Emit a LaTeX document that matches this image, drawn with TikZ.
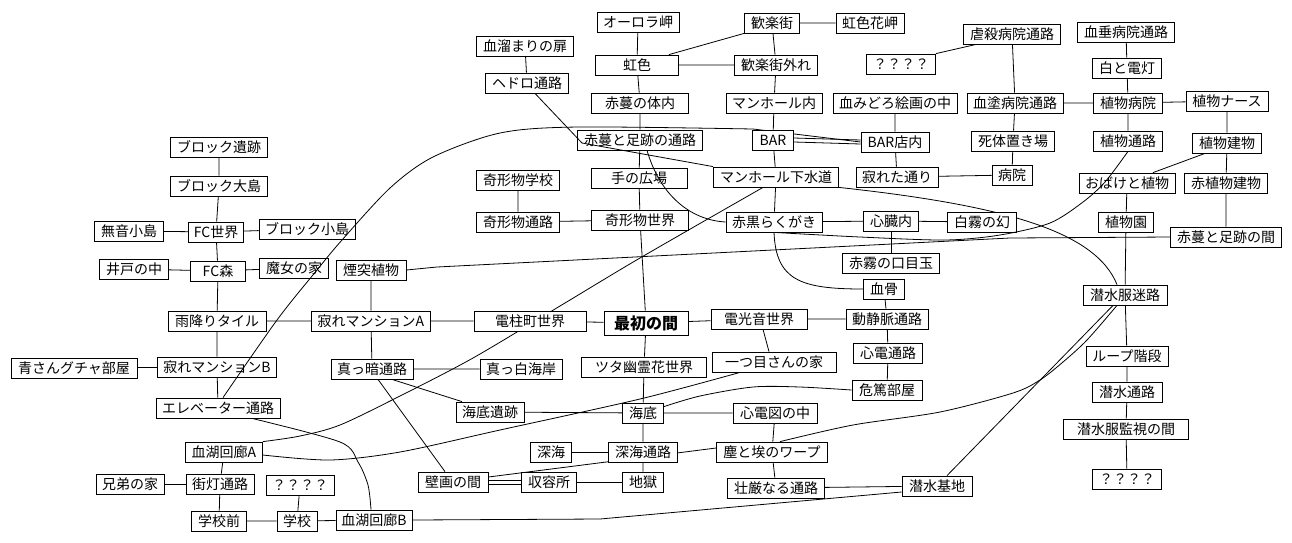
\documentclass[tikz,border=0pt]{standalone}
\usepackage{fontspec}
\newfontfamily\jp{Noto Sans CJK JP}
\usepackage{tikz}
\usetikzlibrary{backgrounds}
\newcommand{\jpsize}{\jp\fontsize{14}{15}\selectfont}

\begin{document}
\begin{tikzpicture}[x=1pt,y=-1pt,
  room/.style={draw,fill=white,inner sep=0pt,minimum height=20pt,line width=0.8pt,font=\jpsize},
  bw/.style={minimum width=#1},
  link/.style={line width=0.8pt}]
\useasboundingbox (0,0) rectangle (1292,542);
% rooms, top part
\node[room,bw=82] (aurora) at (638,22) {オーロラ岬};
\node[room,bw=55] (kanraku) at (772,23) {歓楽街};
\node[room,bw=68] (nijibana) at (870,23) {虹色花岬};
\node[room,bw=83] (niji) at (637,65) {虹色};
\node[room,bw=83] (hazure) at (776,65) {歓楽街外れ};
\node[room,bw=97] (tamari) at (525,46) {血溜まりの扉};
\node[room,bw=83] (hedoro) at (527,83) {ヘドロ通路};
\node[room,bw=69] (hatenaA) at (901,64) {？？？？};
\node[room,bw=97] (gyakusatsu) at (1012,34) {虐殺病院通路};
\node[room,bw=97] (chidare) at (1126,32) {血垂病院通路};
\node[room,bw=69] (dento) at (1127,68) {白と電灯};
\node[room,bw=97] (tainai) at (640,103) {赤蔓の体内};
\node[room,bw=96] (manin) at (774,103) {マンホール内};
\node[room,bw=124] (kaiga) at (895,103) {血みどろ絵画の中};
\node[room,bw=96] (chinuri) at (1015,103) {血塗病院通路};
\node[room,bw=69] (shokubyo) at (1128,103) {植物病院};
\node[room,bw=82] (nurse) at (1227,101) {植物ナース};
\node[room,bw=125] (ashiato) at (640,140) {赤蔓と足跡の通路};
\node[room,bw=41] (bar) at (773,140) {BAR};
\node[room,bw=68] (barnai) at (895,142) {BAR店内};
\node[room,bw=83] (shitai) at (1013,141) {死体置き場};
\node[room,bw=69] (shokutsuro) at (1128,141) {植物通路};
\node[room,bw=69] (shokutate) at (1227,143) {植物建物};
\node[room,bw=96] (hiroba) at (639,178) {手の広場};
\node[room,bw=125] (gesui) at (776,177) {マンホール下水道};
\node[room,bw=82] (sabire) at (897,177) {寂れた通り};
\node[room,bw=40] (byoin) at (1012,175) {病院};
\node[room,bw=96] (obake) at (1127,183) {おばけと植物};
\node[room,bw=83] (akatate) at (1226,183) {赤植物建物};
% middle part
\node[room,bw=97] (iseki) at (219,147) {ブロック遺跡};
\node[room,bw=97] (oshima) at (219,186) {ブロック大島};
\node[room,bw=83] (kgakko) at (518,180) {奇形物学校};
\node[room,bw=83] (ktsuro) at (518,222) {奇形物通路};
\node[room,bw=97] (ksekai) at (640,220) {奇形物世界};
\node[room,bw=96] (rakugaki) at (774,222) {赤黒らくがき};
\node[room,bw=55] (shinzo) at (891,221) {心臓内};
\node[room,bw=69] (shirogiri) at (982,222) {白霧の幻};
\node[room,bw=55] (shokuen) at (1126,222) {植物園};
\node[room,bw=111] (ashima) at (1226,237) {赤蔓と足跡の間};
\node[room,bw=69] (muon) at (129,231) {無音小島};
\node[room,bw=55] (fcsekai) at (216,232) {FC世界};
\node[room,bw=96] (kojima) at (307,229) {ブロック小島};
\node[room,bw=69] (ido) at (134,269) {井戸の中};
\node[room,bw=55] (fcmori) at (218,271) {FC森};
\node[room,bw=69] (majo) at (294,268) {魔女の家};
\node[room,bw=70] (entotsu) at (371,270) {煙突植物};
\node[room,bw=97] (medama) at (891,263) {赤霧の口目玉};
\node[room,bw=41] (kekkotsu) at (884,289) {血骨};
\node[room,bw=84] (meiro) at (1125,295) {潜水服迷路};
\node[room,bw=98] (amefuri) at (217,321) {雨降りタイル};
\node[room,bw=119] (mansionA) at (371,321) {寂れマンションA};
\node[room,bw=112] (denchu) at (530,321) {電柱町世界};
\node[room,bw=84,minimum height=24pt,font=\jp\bfseries\fontsize{16}{17}\selectfont] (saisho) at (646,323) {最初の間};
\node[room,bw=96] (denko) at (759,319) {電光音世界};
\node[room,bw=82] (domyaku) at (887,319) {動静脈通路};
\node[room,bw=82] (loop) at (1127,356) {ループ階段};
% lower part
\node[room,bw=126] (ao) at (74,368) {青さんグチャ部屋};
\node[room,bw=119] (mansionB) at (217,367) {寂れマンションB};
\node[room,bw=82] (makkura) at (372,369) {真っ暗通路};
\node[room,bw=82] (masshiro) at (521,369) {真っ白海岸};
\node[room,bw=125] (tsuta) at (644,367) {ツタ幽霊花世界};
\node[room,bw=124] (hitotsume) at (774,362) {一つ目さんの家};
\node[room,bw=69] (shinden) at (888,353) {心電通路};
\node[room,bw=70] (kitoku) at (887,390) {危篤部屋};
\node[room,bw=70] (stsuro) at (1127,392) {潜水通路};
\node[room,bw=124] (elevator) at (218,408) {エレベーター通路};
\node[room,bw=68] (kaiseki) at (490,412) {海底遺跡};
\node[room,bw=41] (kaitei) at (643,413) {海底};
\node[room,bw=84] (shindenzu) at (775,413) {心電図の中};
\node[room,bw=125] (kanshi) at (1126,429) {潜水服監視の間};
\node[room,bw=77] (kekkoA) at (224,452) {血湖回廊A};
\node[room,bw=41] (shinkai) at (551,452) {深海};
\node[room,bw=69] (shtsuro) at (643,452) {深海通路};
\node[room,bw=111] (warp) at (772,452) {塵と埃のワープ};
\node[room,bw=68] (kyodai) at (130,484) {兄弟の家};
\node[room,bw=68] (gaito) at (220,484) {街灯通路};
\node[room,bw=68] (hatenaB) at (300,485) {？？？？};
\node[room,bw=70] (hekiga) at (453,482) {壁画の間};
\node[room,bw=55] (shuyo) at (549,482) {収容所};
\node[room,bw=41] (jigoku) at (643,482) {地獄};
\node[room,bw=97] (sogon) at (776,488) {壮厳なる通路};
\node[room,bw=70] (kichi) at (937,486) {潜水基地};
\node[room,bw=69] (hatenaC) at (1127,479) {？？？？};
\node[room,bw=55] (gmae) at (219,521) {学校前};
\node[room,bw=40] (gakko) at (297,521) {学校};
\node[room,bw=76] (kekkoB) at (374,520) {血湖回廊B};
\coordinate (barcorner) at (753,129);

\begin{scope}[on background layer]
% straight passages
\draw[link] (aurora) -- (niji) -- (tainai) -- (ashiato) -- (hiroba) -- (ksekai) -- (saisho) -- (tsuta) -- (kaitei) -- (shtsuro) -- (jigoku);
\draw[link] (niji) -- (hazure) -- (kanraku) -- (nijibana);
\draw[link] ([xshift=-10]niji.north east) -- (kanraku.south west);
\draw[link] (hazure) -- (manin) -- (bar) -- (gesui) -- (rakugaki) -- (shinzo) -- (shirogiri);
\draw[link] (tamari) -- (hedoro);
\draw[link] (hatenaA.north east) -- ([xshift=13]gyakusatsu.south west);
\draw[link] (gyakusatsu) -- (chinuri) -- (shitai) -- (byoin) -- (sabire) -- (barnai) -- (kaiga);
\draw[link] (chinuri) -- (shokubyo) -- (nurse) -- (shokutate) -- (akatate) -- (ashima);
\draw[link] (chidare) -- (dento) -- (shokubyo) -- (shokutsuro);
\draw[link] ([xshift=-22]shokutate.south) -- ([xshift=26]obake.north);
\draw[link] (obake) -- (shokuen) -- (meiro) -- (loop) -- (stsuro) -- (kanshi) -- (hatenaC);
\draw[link] ([yshift=2]bar.east) -- ([yshift=2]barnai.west);
\draw[link] ([yshift=-2]bar.east) -- ([yshift=-2]barnai.west);
\draw[link] (barcorner) -- (barnai.west);
\draw[link] (kgakko) -- (ktsuro) -- (ksekai);
\draw[link] (iseki) -- (oshima) -- (fcsekai) -- (fcmori) -- (amefuri) -- (mansionB) -- (elevator);
\draw[link] (muon) -- (fcsekai) -- (kojima);
\draw[link] (ido) -- (fcmori) -- (majo);
\draw[link] (amefuri) -- (mansionA) -- (denchu) -- (saisho) -- (denko) -- (domyaku) -- (kekkotsu);
\draw[link] (domyaku) -- (shinden) -- (kitoku);
\draw[link] (entotsu) -- (mansionA) -- (makkura) -- (masshiro);
\draw[link] (shinzo) -- (medama);
\draw[link] (ao) -- (mansionB);
\draw[link] (kaiseki) -- (kaitei) -- (shindenzu) -- (warp) -- (sogon) -- (kichi);
\draw[link] (shinkai) -- (shtsuro);
\draw[link] (kekkoA) -- (gaito) -- (gmae) -- (gakko) -- (kekkoB);
\draw[link] (kyodai) -- (gaito);
\draw[link] (hatenaB) -- (gakko);
\draw[link] ([yshift=2]hekiga.east) -- ([yshift=2]shuyo.west);
\draw[link] ([yshift=-2]hekiga.east) -- ([yshift=-2]shuyo.west);
\draw[link] (shuyo) -- (jigoku);
\draw[link] ([xshift=4]denko.south) -- ([xshift=-5]hitotsume.north);
\draw[link] ([xshift=20]makkura.south) -- ([xshift=-28]kaiseki.north);
\draw[link] ([xshift=6]makkura.south) -- ([xshift=-8]hekiga.north);
\draw[link] ([yshift=5]hekiga.east) -- ([yshift=4]warp.west);
\draw[link] ([xshift=10]kichi.north) -- ([xshift=-12]meiro.south);
\draw[link] ([yshift=-6]kichi.west) -- (600,519) -- (kekkoB.east);
\draw[link] (entotsu.east) -- (437,267) -- (1010,238) -- (ashima.west);
% long curved passages
\draw[link] (gesui.south east) .. controls (1000,205) and (1095,230) .. ([xshift=-8]meiro.north);
\draw[link] plot[smooth] coordinates {([xshift=-13]gesui.south) (640,258) (560,306) (473,358) (400,396) (340,425) (300,436) (kekkoA.north east)};
\draw[link] plot[smooth] coordinates {([xshift=-34]hitotsume.south) (640,399) (500,430) (400,452) (330,460) ([yshift=-3]kekkoA.east)};
\draw[link] plot[smooth] coordinates {(kitoku.west) (800,387) (753,387) (700,396) ([yshift=-4]kaitei.north east)};
\draw[link] plot[smooth] coordinates {([xshift=8]warp.north) (853,425) (940,412) (1013,393) (1040,380) (1063,362) (1087,340) ([xshift=-8]meiro.south)};
\draw[link] plot[smooth] coordinates {([xshift=34]elevator.south) (340,442) (358,462) (368,485) ([xshift=-3]kekkoB.north)};
\draw[link] (rakugaki.south) .. controls (776,280) and (800,289) .. (kekkotsu.west);
\end{scope}
% lines drawn over the boxes
\draw[link] plot[smooth] coordinates {([xshift=5]elevator.north) (277,320) (317,270) (342,240) (390,188) (433,157) (500,133) (578,127) (barcorner)};
\draw[link] ([xshift=8]hedoro.south) -- (582,143) -- (gesui.north west);
\draw[link] ([xshift=7]ashiato.south) .. controls (660,195) and (690,220) .. (rakugaki.west);
\draw[link] plot[smooth] coordinates {(rakugaki.south) (860,237) (945,240) (1000,235) (1050,223) (1083,202) (1105,182) (shokutsuro.south)};
\end{tikzpicture}
\end{document}
